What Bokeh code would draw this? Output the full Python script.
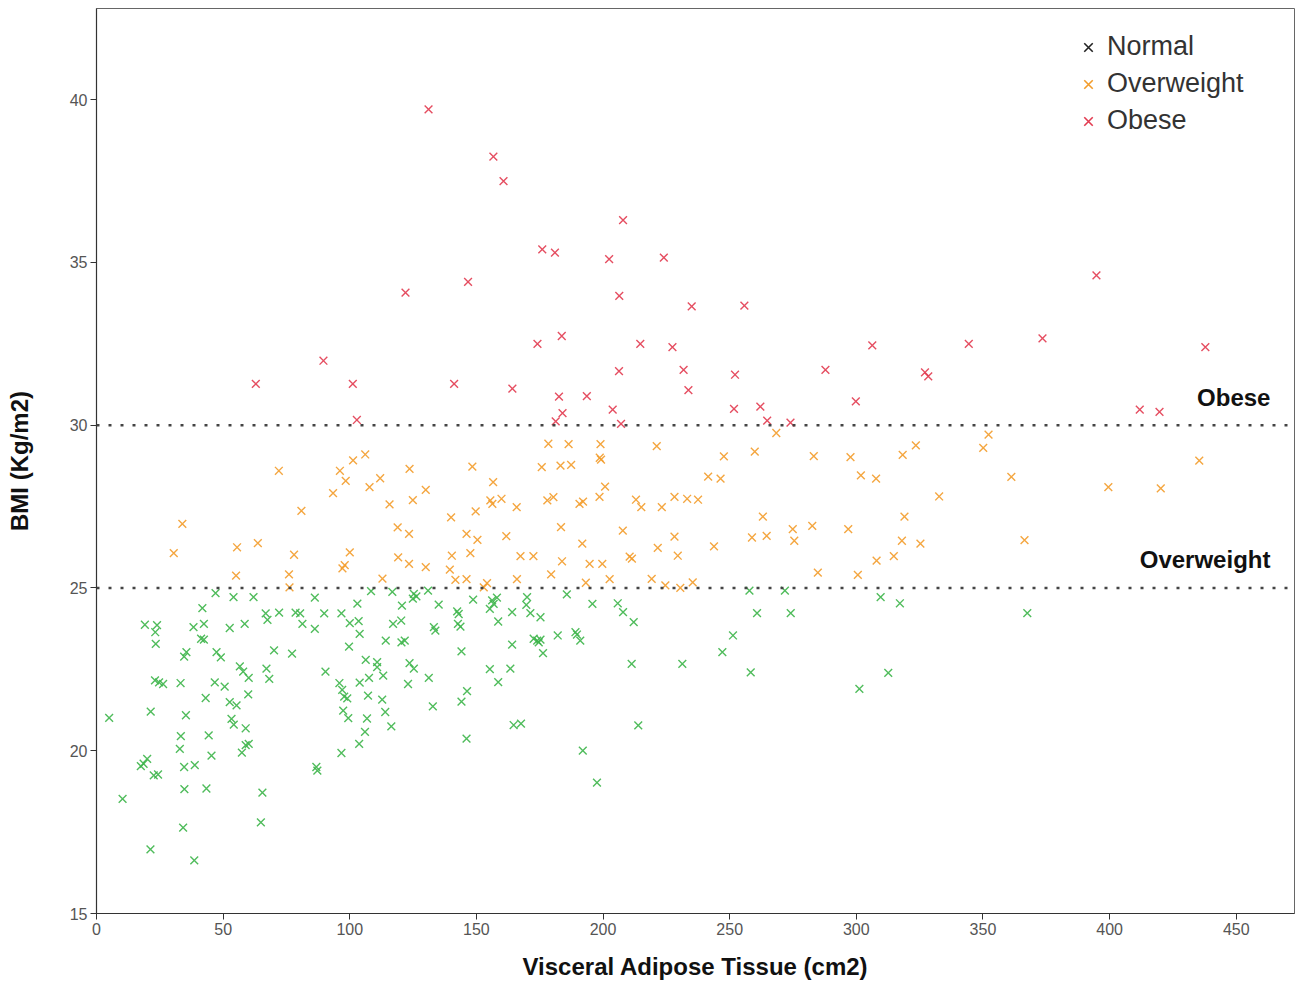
from bokeh.plotting import figure
from bokeh.models import Range1d, Span, Label, Legend, LegendItem, ColumnDataSource
from bokeh.embed import file_html
from bokeh.resources import INLINE

# ---------------- data ----------------
normal_x = [47, 54.1, 62, 86.2, 108.4, 116.8, 41.8, 103, 120.6,
            66.8, 72.1, 78.6, 80.4, 67.5, 89.9, 96.7,
            19.1, 23.9, 23.2, 23.4, 38.3, 42.4, 41.3, 42.4, 52.6, 58.5, 81.3, 86.2, 100, 103.5, 103.9,
            117.1, 120.3, 114.2, 120.4, 99.7, 70.1, 77.2, 35.5, 34.6, 47.4, 49.1, 56.6, 57.9, 60.1,
            67.1, 68.2, 90.4, 106.3, 110.8, 113.2, 107.6, 110.8, 103.9, 23.1, 24.7, 26.3, 33.2, 46.7,
            50.6, 95.9, 97, 97.8, 99, 59.9, 43.1, 52.6, 55.3, 107.2, 112.8, 5, 21.4, 35.3, 53.3, 54.2,
            58.9, 97.4, 99.4, 106.8, 114, 116.4, 106, 103.7, 33.3, 32.9, 44.3, 45.4, 58.9, 60.1, 57.4,
            96.7, 18.6, 20, 17.5, 22.6, 24.3, 34.6, 38.8, 86.8, 87.2, 10.3, 34.7, 43.4, 65.5, 34.2,
            64.9, 21.3, 38.6,
            125.3, 124.9, 126.3, 130.9, 135.1, 148.7, 156.2, 158.1, 155.3, 156.8, 158.6, 142.4, 143,
            142.7, 143.7, 133.2, 133.8, 121.7, 144.1, 164.1, 164.1, 170, 169.7, 171.3, 175.3, 172.6,
            174, 175.3, 174.6, 176.3, 182.1, 185.7, 189.1, 189.7, 191, 195.8, 205.8, 207.9, 212.1,
            123.6, 125.3, 131.2, 123, 155.3, 163.4, 158.6, 146.3, 144.1, 132.8, 146.1, 164.7, 167.6,
            211.3, 231.3, 213.9, 192, 197.6,
            257.8, 271.8, 260.8, 274.1, 309.6, 317.2, 367.5, 251.3, 247.1, 258.3, 312.6, 301.2]
normal_y = [24.84, 24.72, 24.72, 24.7, 24.9, 24.88, 24.38, 24.52, 24.46,
            24.22, 24.24, 24.24, 24.22, 24.02, 24.22, 24.22,
            23.87, 23.86, 23.64, 23.28, 23.8, 23.9, 23.44, 23.41, 23.77, 23.9, 23.9, 23.74, 23.92, 23.98, 23.59,
            23.9, 24.0, 23.38, 23.33, 23.2, 23.08, 22.98, 23.03, 22.89, 23.03, 22.87, 22.59, 22.43, 22.24,
            22.52, 22.21, 22.43, 22.79, 22.72, 22.31, 22.24, 22.57, 22.09, 22.16, 22.1, 22.05, 22.08, 22.1,
            21.97, 22.08, 21.87, 21.66, 21.61, 21.73, 21.62, 21.49, 21.39, 21.69, 21.57, 21.01, 21.2, 21.09, 20.98, 20.8,
            20.69, 21.23, 21.0, 20.99, 21.19, 20.75, 20.58, 20.21, 20.45, 20.06, 20.47, 19.85, 20.17, 20.21, 19.94,
            19.93, 19.6, 19.75, 19.53, 19.24, 19.27, 19.5, 19.56, 19.5, 19.39, 18.52, 18.82, 18.84, 18.71, 17.64,
            17.8, 16.97, 16.63,
            24.82, 24.67, 24.74, 24.92, 24.49, 24.64, 24.62, 24.7, 24.36, 24.51, 23.97, 24.28, 24.2,
            23.9, 23.81, 23.8, 23.69, 23.38, 23.05, 24.26, 23.26, 24.72, 24.48, 24.23, 24.1, 23.44,
            23.38, 23.41, 23.33, 23.0, 23.54, 24.8, 23.64, 23.57, 23.38, 24.51, 24.53, 24.26, 23.95,
            22.69, 22.52, 22.24, 22.05, 22.51, 22.52, 22.11, 21.83, 21.51, 21.36, 20.37, 20.79, 20.83,
            22.67, 22.67, 20.78, 20.0, 19.02,
            24.92, 24.92, 24.23, 24.23, 24.72, 24.53, 24.23, 23.54, 23.03, 22.41, 22.39, 21.9]

over_x = [72, 96.1, 101.3, 106.1, 98.4, 112, 107.8, 93.4, 115.7, 80.9, 33.9, 118.9, 30.5, 55.5, 63.7,
          78, 100, 98, 97.1, 119.1, 55.1, 76, 76.2, 112.9,
          123.6, 148.4, 178.4, 186.4, 199, 198.7, 199.2, 221.2, 175.8, 183.2, 187.4, 156.6, 200.8, 241.5,
          130, 124.9, 155.5, 156.3, 159.9, 165.9, 178, 180.4, 190.7, 192.1, 198.6, 213, 215.1, 223.2,
          228.2, 233.2, 237.5, 149.7, 140, 183.4, 207.8, 123.4, 146.1, 150.4, 161.8, 191.8, 228.2, 221.6,
          147.6, 140.3, 167.4, 172.5, 210.5, 211.4, 229.5, 123.4, 130, 139.5, 183.8, 194.7, 199.7, 141.7,
          146.1, 154.2, 152.9, 166, 179.5, 193.2, 202.6, 219.2, 224.6, 230.5, 235.4,
          268.4, 352.2, 350.1, 323.5, 318.3, 247.7, 259.9, 283.2, 297.7, 435.4, 246.4, 301.8, 307.8,
          361.2, 399.5, 420.2, 332.7, 263.1, 319, 258.8, 264.6, 274.9, 275.5, 282.6, 296.8, 318, 325.3,
          366.4, 243.8, 308, 314.8, 284.8, 300.6]
over_y = [28.6, 28.6, 28.92, 29.1, 28.29, 28.37, 28.1, 27.91, 27.57, 27.37, 26.97, 26.86, 26.07, 26.25, 26.38,
          26.02, 26.09, 25.7, 25.6, 25.94, 25.38, 25.42, 25.02, 25.29,
          28.66, 28.73, 29.43, 29.42, 29.42, 29.0, 28.94, 29.36, 28.71, 28.76, 28.78, 28.25, 28.11, 28.42,
          28.01, 27.7, 27.69, 27.58, 27.74, 27.48, 27.69, 27.79, 27.58, 27.65, 27.8, 27.71, 27.48, 27.48,
          27.8, 27.74, 27.71, 27.35, 27.17, 26.87, 26.76, 26.66, 26.66, 26.48, 26.59, 26.36, 26.58, 26.23,
          26.07, 25.99, 25.98, 25.98, 25.96, 25.9, 25.99, 25.74, 25.64, 25.56, 25.82, 25.74, 25.74, 25.25,
          25.27, 25.15, 25.02, 25.27, 25.42, 25.16, 25.27, 25.28, 25.08, 25.0, 25.17,
          29.76, 29.71, 29.3, 29.38, 29.09, 29.04, 29.19, 29.05, 29.02, 28.91, 28.36, 28.46, 28.36,
          28.41, 28.1, 28.06, 27.81, 27.19, 27.19, 26.55, 26.6, 26.81, 26.45, 26.91, 26.81, 26.45, 26.36,
          26.47, 26.28, 25.84, 25.98, 25.47, 25.4]

obese_x = [131.1, 156.7, 160.7, 207.9, 176.0, 181.0, 202.4, 224.0, 206.4, 146.7, 122.0, 235.0, 183.7,
           174.1, 214.7, 227.4, 89.6, 62.9, 101.2, 141.2, 164.2, 206.3, 231.8, 233.7, 182.6, 193.6,
           203.8, 184.0, 181.3, 102.8, 207.1,
           394.8, 255.8, 306.3, 344.4, 373.5, 437.8, 252.1, 287.8, 327.1, 328.4, 251.7, 262.1, 299.8,
           264.8, 274.0, 411.9, 419.7]
obese_y = [39.7, 38.25, 37.5, 36.3, 35.4, 35.3, 35.1, 35.15, 33.97, 34.4, 34.07, 33.65, 32.74,
           32.5, 32.5, 32.4, 31.98, 31.27, 31.27, 31.27, 31.12, 31.66, 31.7, 31.08, 30.88, 30.89,
           30.48, 30.37, 30.12, 30.16, 30.04,
           34.6, 33.67, 32.45, 32.5, 32.67, 32.4, 31.55, 31.7, 31.62, 31.5, 30.5, 30.57, 30.73,
           30.14, 30.08, 30.48, 30.41]

x_ticks = [0, 50, 100, 150, 200, 250, 300, 350, 400, 450]
y_ticks = [15, 20, 25, 30, 35, 40]
thresholds = [30, 25]
threshold_labels = ["Obese", "Overweight"]

GREEN = "#3db54a"
ORANGE = "#f39c2b"
RED = "#e23b50"
FONT = "Liberation Sans"

p = figure(width=1296, height=985, output_backend="svg", toolbar_location=None,
           x_range=Range1d(0, 473), y_range=Range1d(15, 42.8),
           min_border_left=96, min_border_right=2, min_border_top=8, min_border_bottom=72)
p.background_fill_color = "white"
p.border_fill_color = "white"
p.outline_line_color = "#666666"
p.outline_line_width = 1
p.xgrid.visible = False
p.ygrid.visible = False

# thresholds
for t in thresholds:
    p.add_layout(Span(location=t, dimension="width", line_color="#444444",
                      line_width=2.5, line_dash="3 9"))

common = dict(marker="x", size=11, line_width=1.4)
p.scatter(normal_x, normal_y, line_color=GREEN, line_alpha=0.9, **common)
p.scatter(over_x, over_y, line_color=ORANGE, line_alpha=0.9, **common)
p.scatter(obese_x, obese_y, line_color=RED, line_alpha=0.9, **common)

# legend proxies (Normal shown in black in the original); NaN point is never drawn
nan = float("nan")
proxy = ColumnDataSource(data=dict(x=[nan], y=[nan]))
r_n = p.scatter("x", "y", source=proxy, marker="x", size=13, line_width=1.6, line_color="#222222")
r_o = p.scatter("x", "y", source=proxy, marker="x", size=13, line_width=1.6, line_color=ORANGE)
r_b = p.scatter("x", "y", source=proxy, marker="x", size=13, line_width=1.6, line_color=RED)
legend = Legend(items=[LegendItem(label="Normal", renderers=[r_n]),
                       LegendItem(label="Overweight", renderers=[r_o]),
                       LegendItem(label="Obese", renderers=[r_b])],
                location=(976, 777))
legend.label_text_font = FONT
legend.label_text_font_size = "27px"
legend.label_text_color = "#333333"
legend.label_height = 30
legend.glyph_height = 30
legend.glyph_width = 32
legend.spacing = 6
legend.padding = 10
legend.label_standoff = 3
legend.border_line_color = None
legend.background_fill_alpha = 0
p.add_layout(legend)

for t, lab in zip(thresholds, threshold_labels):
    p.add_layout(Label(x=463.5, y=t + 0.45, text=lab, text_align="right",
                       text_baseline="bottom", text_font=FONT, text_font_size="24px",
                       text_font_style="bold", text_color="#111111"))

# axes
for ax in (p.xaxis[0], p.yaxis[0]):
    ax.axis_line_color = "#333333"
    ax.axis_line_width = 1.2
    ax.major_tick_line_color = "#333333"
    ax.major_tick_out = 6
    ax.major_tick_in = 0
    ax.minor_tick_line_color = None
    ax.major_label_text_font = FONT
    ax.major_label_text_font_size = "16px"
    ax.major_label_text_color = "#555555"
    ax.axis_label_text_font = FONT
    ax.axis_label_text_font_size = "24px"
    ax.axis_label_text_font_style = "bold"
    ax.axis_label_text_color = "#111111"
    ax.major_label_standoff = 3

p.xaxis.ticker = x_ticks
p.yaxis.ticker = y_ticks
p.xaxis.axis_label = "Visceral Adipose Tissue (cm2)"
p.yaxis.axis_label = "BMI (Kg/m2)"
p.xaxis.axis_label_standoff = 15
p.yaxis.axis_label_standoff = 34

open("out.html", "w").write(file_html(p, INLINE))
